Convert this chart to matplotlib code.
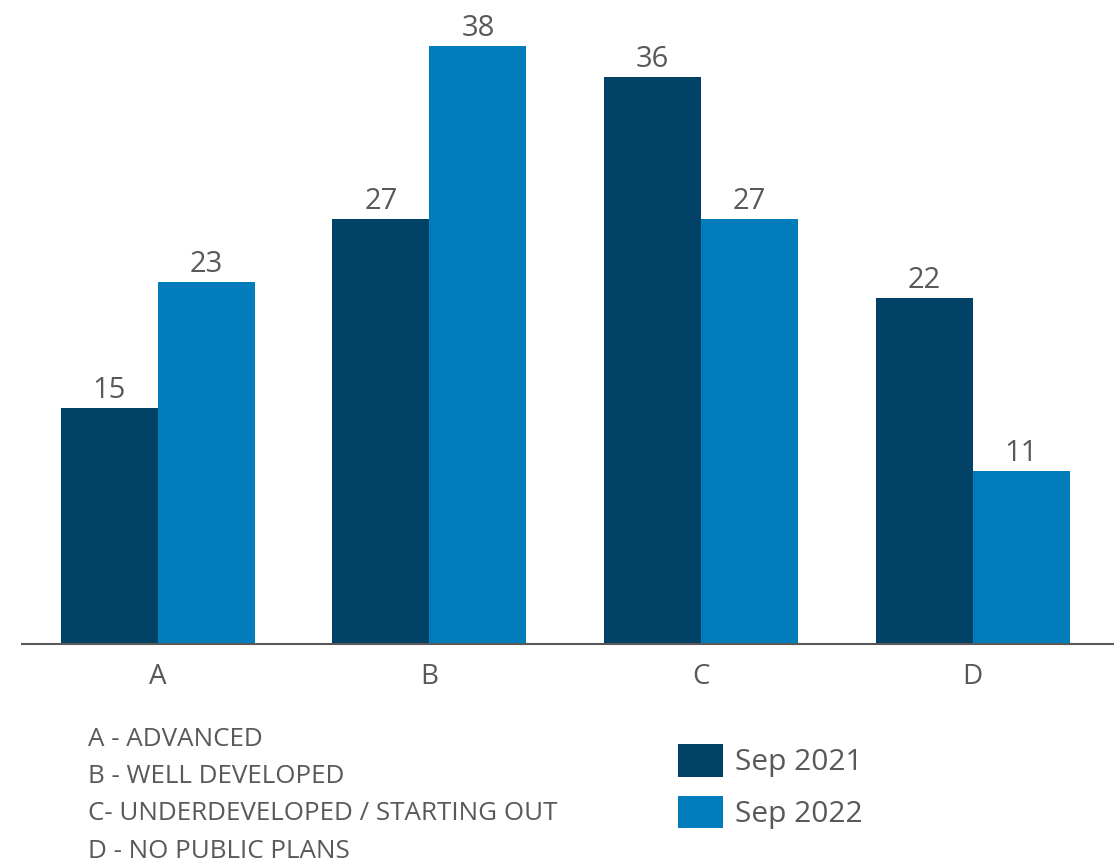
import matplotlib
matplotlib.use("Agg")
import matplotlib.pyplot as plt
import numpy as np

plt.rcParams["font.family"] = ["Open Sans", "DejaVu Sans"]

categories = ["A", "B", "C", "D"]
sep_2021 = [15, 27, 36, 22]
sep_2022 = [23, 38, 27, 11]
series_names = ["Sep 2021", "Sep 2022"]
notes = [
    "A - ADVANCED",
    "B - WELL DEVELOPED",
    "C- UNDERDEVELOPED / STARTING OUT",
    "D - NO PUBLIC PLANS",
]

DARK = "#024266"
LIGHT = "#007DBA"
TEXT = "#595959"

fig = plt.figure(figsize=(11.14, 8.66), dpi=100)
ax = fig.add_axes([0.0197, 0.2564, 0.9803, 0.7436])

x = np.arange(len(categories))
w = 0.357
b1 = ax.bar(x - w / 2, sep_2021, width=w, color=DARK, label=series_names[0])
b2 = ax.bar(x + w / 2, sep_2022, width=w, color=LIGHT, label=series_names[1])

for bars, vals in ((b1, sep_2021), (b2, sep_2022)):
    for bar, v in zip(bars, vals):
        ax.annotate(str(v), (bar.get_x() + bar.get_width() / 2, v),
                    xytext=(0, 2), textcoords="offset points",
                    ha="center", va="bottom", fontsize=21, color=TEXT)

ax.set_xlim(-0.5, 3.52)
ax.set_ylim(0, 40.9)
ax.set_xticks(x)
ax.set_xticklabels(categories, fontsize=20, color=TEXT)
ax.tick_params(axis="x", length=0, pad=14)
ax.set_yticks([])
for s in ("top", "right", "left"):
    ax.spines[s].set_visible(False)
ax.spines["bottom"].set_color("#595959")
ax.spines["bottom"].set_linewidth(1.5)

for i, note in enumerate(notes):
    fig.text(88 / 1114, 1 - (739 + 37.5 * i) / 866, note, fontsize=18.7,
             color=TEXT, va="center", ha="left")

fig.legend(handles=[b1, b2], loc="upper left",
           bbox_to_anchor=(678 / 1114, 1 - 744 / 866), frameon=False,
           fontsize=21.5, labelcolor=TEXT, handlelength=1.5, handleheight=1.3,
           handletextpad=0.4, labelspacing=0.62, borderpad=0, borderaxespad=0)

fig.savefig("out.png", dpi=100, facecolor="white")
